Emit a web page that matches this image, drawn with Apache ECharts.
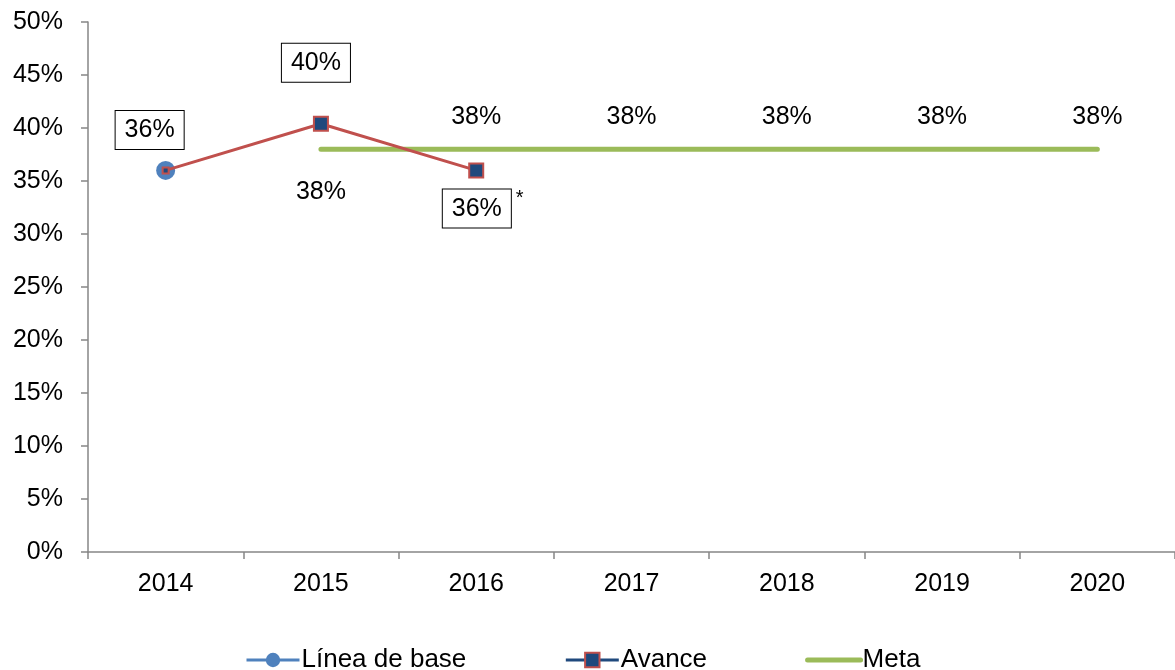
<!DOCTYPE html>
<html>
<head>
<meta charset="utf-8">
<script src="https://cdn.jsdelivr.net/npm/echarts@6/dist/echarts.min.js"></script>
<style>
  html, body { margin: 0; padding: 0; background: #fff; }
  #chart { width: 1175px; height: 670px; }
</style>
</head>
<body>
<div id="chart"></div>
<script>
const years = ['2014', '2015', '2016', '2017', '2018', '2019', '2020']
const lineaBase = [36, null, null, null, null, null, null]
const avance = [36, 40.4, 36, null, null, null, null]
const meta = [null, 38, 38, 38, 38, 38, 38]

const font = 'Liberation Sans, Arial, sans-serif'
const pct = v => Math.round(v) + '%'

const boxStyle = {
  color: '#000',
  fontSize: 25,
  fontFamily: font,
  backgroundColor: '#fff',
  borderColor: '#000',
  borderWidth: 1,
  padding: [7, 9, 6, 9]
}

const myChart = echarts.init(document.getElementById('chart'))

const option = {
  animation: false,
  grid: { left: 88, right: -8, top: 22, bottom: 118 },
  legend: {
    bottom: -8,
    left: 240,
    itemGap: 98,
    itemWidth: 53,
    itemHeight: 18,
    textStyle: { fontSize: 26, fontFamily: font, color: '#000', padding: [0, 0, 0, -3] },
    data: [
      { name: 'Línea de base', lineStyle: { color: '#4F81BD', width: 3 } },
      { name: 'Avance', lineStyle: { color: '#1F497D', width: 3 } },
      { name: 'Meta', itemStyle: { opacity: 0 }, lineStyle: { color: '#9BBB59', width: 5, cap: 'round' } }
    ]
  },
  xAxis: {
    type: 'category',
    data: years,
    boundaryGap: true,
    axisLine: { lineStyle: { color: '#868686', width: 1.5 } },
    axisTick: { show: true, length: 7, lineStyle: { color: '#868686', width: 1.5 } },
    axisLabel: { fontSize: 25, fontFamily: font, color: '#000', margin: 20 },
    splitLine: { show: false }
  },
  yAxis: {
    type: 'value',
    min: 0,
    max: 50,
    interval: 5,
    axisLine: { show: true, lineStyle: { color: '#868686', width: 1.5 } },
    axisTick: { show: true, length: 7, lineStyle: { color: '#868686', width: 1.5 } },
    axisLabel: { fontSize: 25, fontFamily: font, color: '#000', margin: 25, formatter: '{value}%' },
    splitLine: { show: false }
  },
  series: [
    {
      name: 'Meta',
      type: 'line',
      data: meta.map((v, i) => ({
        value: v,
        label: {
          show: v != null,
          position: i === 1 ? 'bottom' : 'top',
          distance: i === 1 ? 30 : 20,
          formatter: p => pct(p.value),
          fontSize: 25,
          fontFamily: font,
          color: '#000'
        }
      })),
      symbol: 'circle',
      symbolSize: 0.1,
      itemStyle: { color: '#9BBB59' },
      lineStyle: { color: '#9BBB59', width: 5, cap: 'round' },
      z: 2
    },
    {
      name: 'Línea de base',
      type: 'line',
      data: lineaBase.map(v => ({
        value: v,
        label: Object.assign({}, boxStyle, {
          show: v != null,
          position: 'top',
          offset: [-16, -7],
          formatter: p => pct(p.value)
        })
      })),
      symbol: 'circle',
      symbolSize: 19,
      itemStyle: { color: '#4F81BD' },
      lineStyle: { color: '#4F81BD', width: 3 },
      z: 3
    },
    {
      name: 'Avance',
      type: 'line',
      data: avance.map((v, i) => {
        const item = { value: v }
        if (i === 0) {
          item.symbolSize = 6
          item.label = { show: false }
        } else if (i === 1) {
          item.label = Object.assign({}, boxStyle, {
            show: true, position: 'top', offset: [-5, -29], formatter: p => pct(p.value)
          })
        } else if (i === 2) {
          item.label = {
            show: true,
            position: 'bottom',
            offset: [7, 5],
            formatter: p => '{b|' + pct(p.value) + '}{s|*}',
            rich: {
              b: boxStyle,
              s: { fontSize: 20, fontFamily: font, color: '#000', verticalAlign: 'top', padding: [0, 0, 20, 5] }
            }
          }
        }
        return item
      }),
      symbol: 'rect',
      symbolSize: 14,
      itemStyle: { color: '#1F497D', borderColor: '#C0504D', borderWidth: 2 },
      lineStyle: { color: '#C0504D', width: 3 },
      z: 4
    }
  ]
}

myChart.setOption(option)
window.addEventListener('resize', () => myChart.resize())
</script>
</body>
</html>
